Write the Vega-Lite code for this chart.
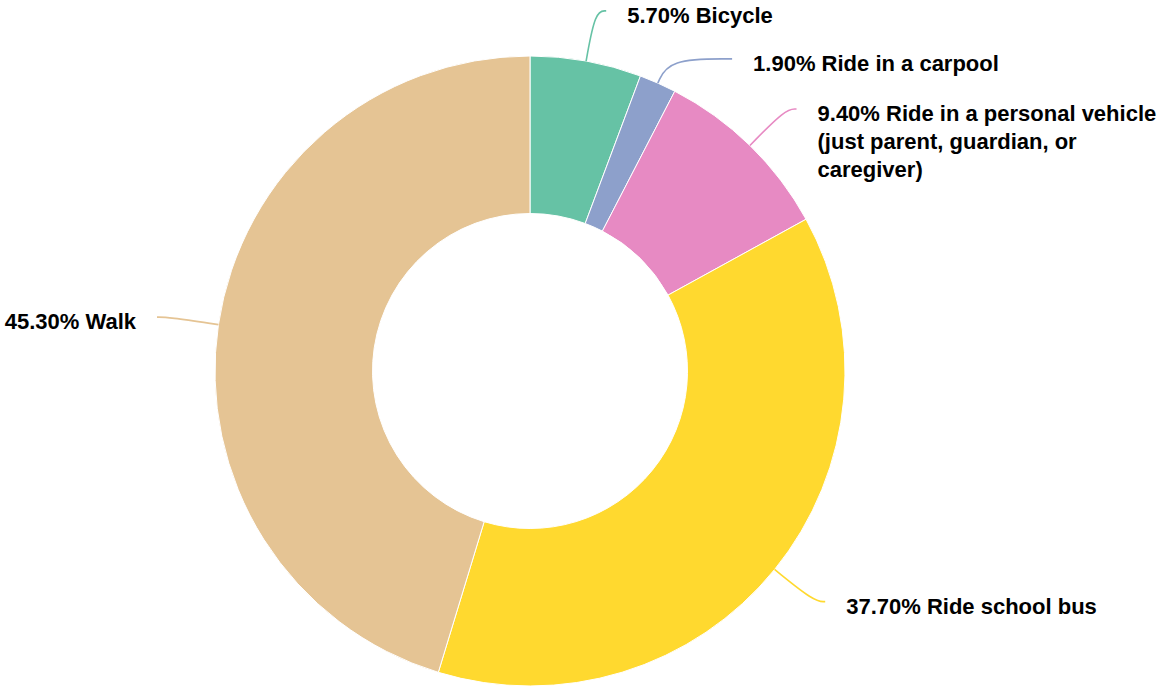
{
  "$schema": "https://vega.github.io/schema/vega-lite/v6.json",
  "width": 1060,
  "height": 634,
  "autosize": "none",
  "padding": {"left": 0, "top": 54, "right": 102, "bottom": 0},
  "background": "white",
  "config": {"view": {"stroke": null}},
  "data": {
    "values": [
      {"mode": "Bicycle", "pct": 5.7},
      {"mode": "Ride in a carpool", "pct": 1.9},
      {"mode": "Ride in a personal vehicle (just parent, guardian, or caregiver)", "pct": 9.4},
      {"mode": "Ride school bus", "pct": 37.7},
      {"mode": "Walk", "pct": 45.3}
    ]
  },
  "transform": [
    {"window": [{"op": "sum", "field": "pct", "as": "cum"}], "frame": [null, 0]},
    {"calculate": "datum.cum - datum.pct", "as": "start"},
    {"calculate": "(datum.cum - datum.pct / 2) / 100 * 2 * PI", "as": "ang"},
    {"calculate": "sin(datum.ang)", "as": "s"},
    {"calculate": "cos(datum.ang)", "as": "c"},
    {"calculate": "datum.s >= 0 ? 1 : -1", "as": "side"},
    {"calculate": "366 * datum.c", "as": "ey0"},
    {"window": [{"op": "lag", "field": "ey0", "as": "prevy"}], "groupby": ["side"], "sort": [{"field": "ang"}]},
    {"calculate": "datum.prevy == null ? datum.ey0 : (datum.side > 0 ? min(datum.ey0, datum.prevy - 48) : max(datum.ey0, datum.prevy + 48))", "as": "ey"},
    {"calculate": "datum.side * (sqrt(366 * 366 - datum.ey * datum.ey) + 11)", "as": "ex"},
    {"calculate": "datum.ex + datum.side * 21", "as": "tx"},
    {"calculate": "format(datum.pct / 100, '.2%') + ' ' + replace(replace(datum.mode, ' (', '\\n('), ', or ', ', or\\n')", "as": "label"}
  ],
  "layer": [
    {
      "mark": {"type": "arc", "innerRadius": 157.5, "outerRadius": 315, "stroke": "white", "strokeWidth": 1},
      "encoding": {
        "theta": {"field": "start", "type": "quantitative", "scale": {"domain": [0, 100]}},
        "theta2": {"field": "cum"},
        "color": {
          "field": "mode",
          "type": "nominal",
          "legend": null,
          "scale": {
            "domain": ["Bicycle", "Ride in a carpool", "Ride in a personal vehicle (just parent, guardian, or caregiver)", "Ride school bus", "Walk"],
            "range": ["#66c2a5", "#8da0cb", "#e78ac3", "#ffd92f", "#e5c494"]
          }
        }
      }
    },
    {
      "transform": [
        {"calculate": "[315 * datum.s, datum.ey * datum.s / datum.c, datum.ex]", "as": "px"},
        {"calculate": "[315 * datum.c, datum.ey, datum.ey]", "as": "py"},
        {"calculate": "[0, 1, 2]", "as": "k"},
        {"flatten": ["px", "py", "k"]}
      ],
      "mark": {"type": "line", "interpolate": "basis", "strokeWidth": 1.6},
      "encoding": {
        "x": {"field": "px", "type": "quantitative", "scale": {"domain": [-530, 530], "nice": false, "zero": false}, "axis": null},
        "y": {"field": "py", "type": "quantitative", "scale": {"domain": [-317, 317], "nice": false, "zero": false}, "axis": null},
        "detail": {"field": "mode"},
        "order": {"field": "k", "type": "quantitative"},
        "color": {"field": "mode", "type": "nominal", "legend": null}
      }
    },
    {
      "transform": [{"filter": "datum.side > 0"}],
      "mark": {"type": "text", "align": "left", "baseline": "alphabetic", "dy": 12, "font": "Liberation Sans", "fontWeight": "bold", "fontSize": 22, "lineHeight": 28, "lineBreak": "\n", "color": "#000000"},
      "encoding": {
        "x": {"field": "tx", "type": "quantitative"},
        "y": {"field": "ey", "type": "quantitative"},
        "text": {"field": "label"}
      }
    },
    {
      "transform": [{"filter": "datum.side < 0"}],
      "mark": {"type": "text", "align": "right", "baseline": "alphabetic", "dy": 12, "font": "Liberation Sans", "fontWeight": "bold", "fontSize": 22, "lineHeight": 28, "lineBreak": "\n", "color": "#000000"},
      "encoding": {
        "x": {"field": "tx", "type": "quantitative"},
        "y": {"field": "ey", "type": "quantitative"},
        "text": {"field": "label"}
      }
    }
  ]
}
